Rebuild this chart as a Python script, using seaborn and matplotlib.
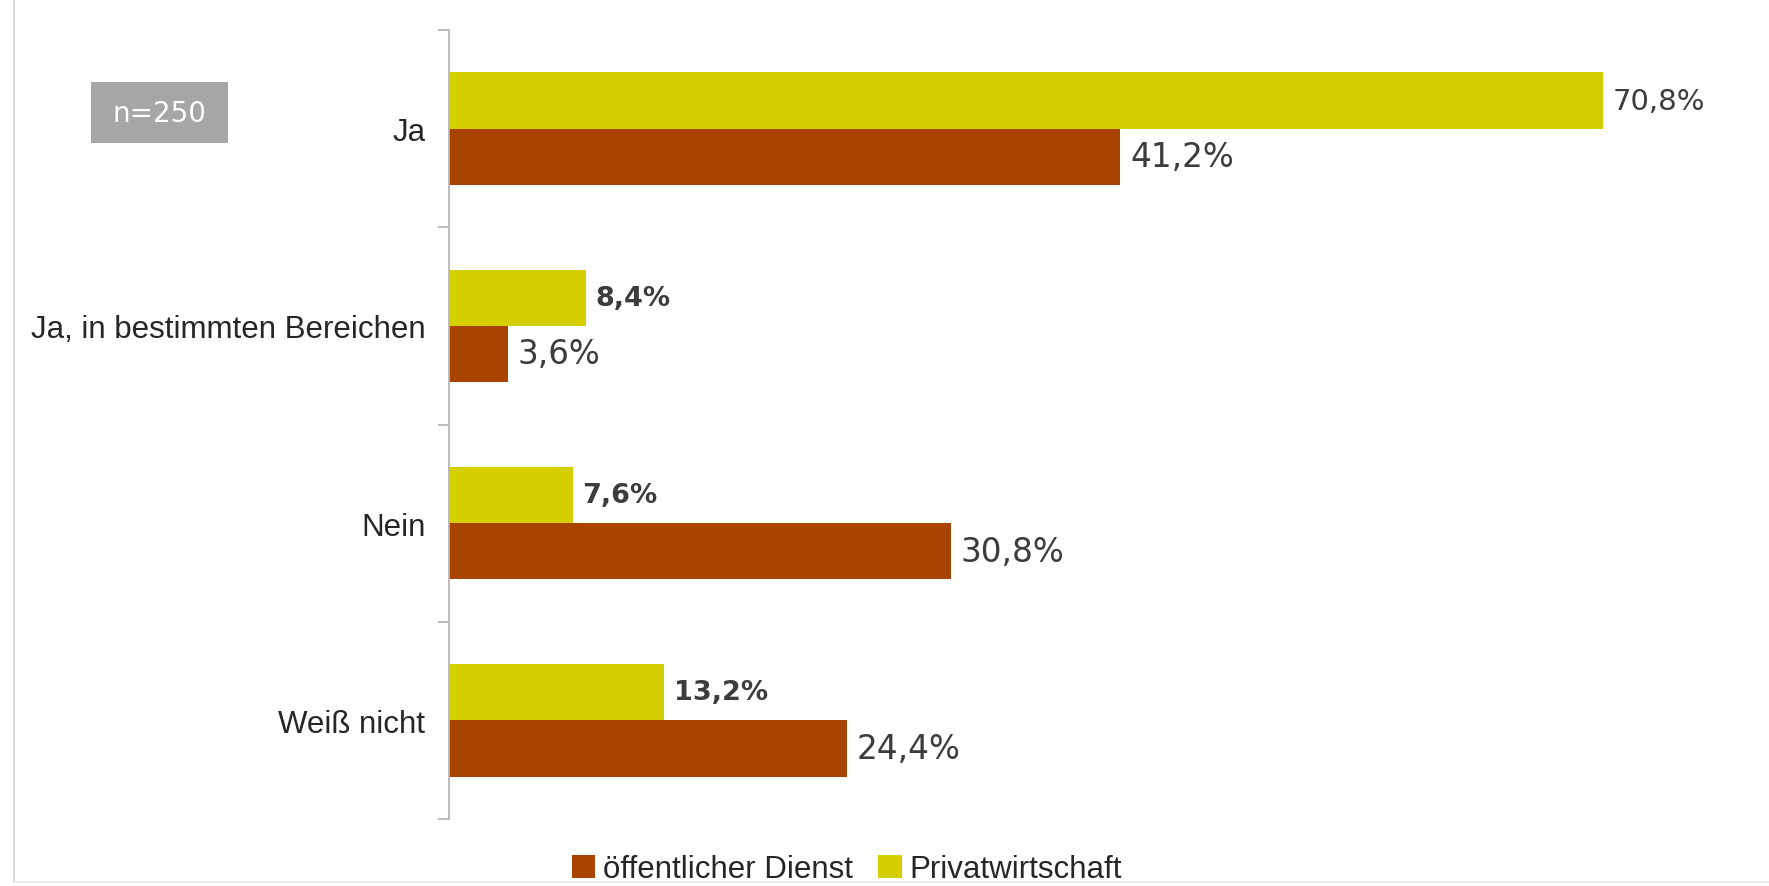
import matplotlib
matplotlib.use("Agg")
import matplotlib.pyplot as plt
import seaborn as sns
import pandas as pd
from matplotlib.patches import Rectangle, Patch
from matplotlib.lines import Line2D

categories = ["Ja", "Ja, in bestimmten Bereichen", "Nein", "Weiß nicht"]
oeffentlich = [41.2, 3.6, 30.8, 24.4]
privat = [70.8, 8.4, 7.6, 13.2]
series_names = ["öffentlicher Dienst", "Privatwirtschaft"]
colors = {"öffentlicher Dienst": "#A84400", "Privatwirtschaft": "#D5CF00"}
sample_label = "n=250"

df = pd.DataFrame({
    "Kategorie": categories * 2,
    "Wert": oeffentlich + privat,
    "Gruppe": [series_names[0]] * 4 + [series_names[1]] * 4,
})

sns.set_style("white")
plt.rcParams["font.family"] = ["Liberation Sans", "DejaVu Sans"]

W, H = 1769, 887
fig = plt.figure(figsize=(W / 100, H / 100), dpi=100)
ax_left, ax_right = 449 / W, 1733 / W
ax_bottom, ax_top = 1 - 820 / H, 1 - 31 / H
ax = fig.add_axes([ax_left, ax_bottom, ax_right - ax_left, ax_top - ax_bottom])

hue_order = ["Privatwirtschaft", "öffentlicher Dienst"]
sns.barplot(data=df, y="Kategorie", x="Wert", hue="Gruppe", hue_order=hue_order,
            order=categories, palette=colors, width=0.57, orient="h",
            saturation=1, ax=ax, legend=False, edgecolor="none")

ax.set_xlim(0, 78.8)
ax.set_ylim(3.5, -0.5)

# value labels
for container, name in zip(ax.containers, hue_order):
    vals = df[df["Gruppe"] == name].set_index("Kategorie").loc[categories, "Wert"]
    for bar, val in zip(container, vals):
        if name == "Privatwirtschaft" and val < 50:
            size, weight = 19.5, "bold"
        elif name == "Privatwirtschaft":
            size, weight = 21, "normal"
        else:
            size, weight = 23.5, "normal"
        ax.annotate(f"{val:.1f}%".replace(".", ","),
                    xy=(bar.get_width(), bar.get_y() + bar.get_height() / 2),
                    xytext=(7, 0), textcoords="offset points",
                    va="center", ha="left", fontsize=size, fontweight=weight,
                    color="#3c3c3c", family="DejaVu Sans")

for s in ["top", "right", "bottom"]:
    ax.spines[s].set_visible(False)
ax.spines["left"].set_color("#b8b8b8")
ax.spines["left"].set_linewidth(1.3)
ax.set_xticks([])
ax.set_xlabel("")
ax.set_ylabel("")
ax.set_yticks(range(len(categories)))
ax.set_yticklabels(categories, fontsize=22.5, color="#262626")
ax.tick_params(axis="y", which="major", length=0, pad=17)
ax.set_yticks([-0.5, 0.5, 1.5, 2.5, 3.5], minor=True)
ax.tick_params(axis="y", which="minor", left=True, length=8, width=1.3, color="#b8b8b8")

# legend
handles = [Patch(facecolor=colors[n], edgecolor="none") for n in series_names]
fig.legend(handles, series_names, loc="center", bbox_to_anchor=(847 / W, 1 - 870 / H),
           ncol=2, frameon=False, fontsize=22.5, handlelength=0.75, handleheight=0.75,
           handletextpad=0.25, columnspacing=0.8, labelcolor="#262626",
           borderpad=0.1)

# n=250 box
fig.add_artist(Rectangle((91 / W, 1 - 144 / H), 137 / W, 61 / H,
                         transform=fig.transFigure, facecolor="#a6a6a6", edgecolor="none"))
fig.text(159.5 / W, 1 - 114 / H, sample_label, ha="center", va="center",
         color="white", fontsize=20, family="DejaVu Sans")

# frame lines
fig.add_artist(Line2D([14 / W, 14 / W], [1 - 883 / H, 1], transform=fig.transFigure,
                      color="#d4d4d4", lw=1.2))
fig.add_artist(Line2D([14 / W, 1], [1 - 883 / H, 1 - 883 / H], transform=fig.transFigure,
                      color="#e4e4e4", lw=1.2))

fig.savefig("out.png", dpi=100, facecolor="white")
